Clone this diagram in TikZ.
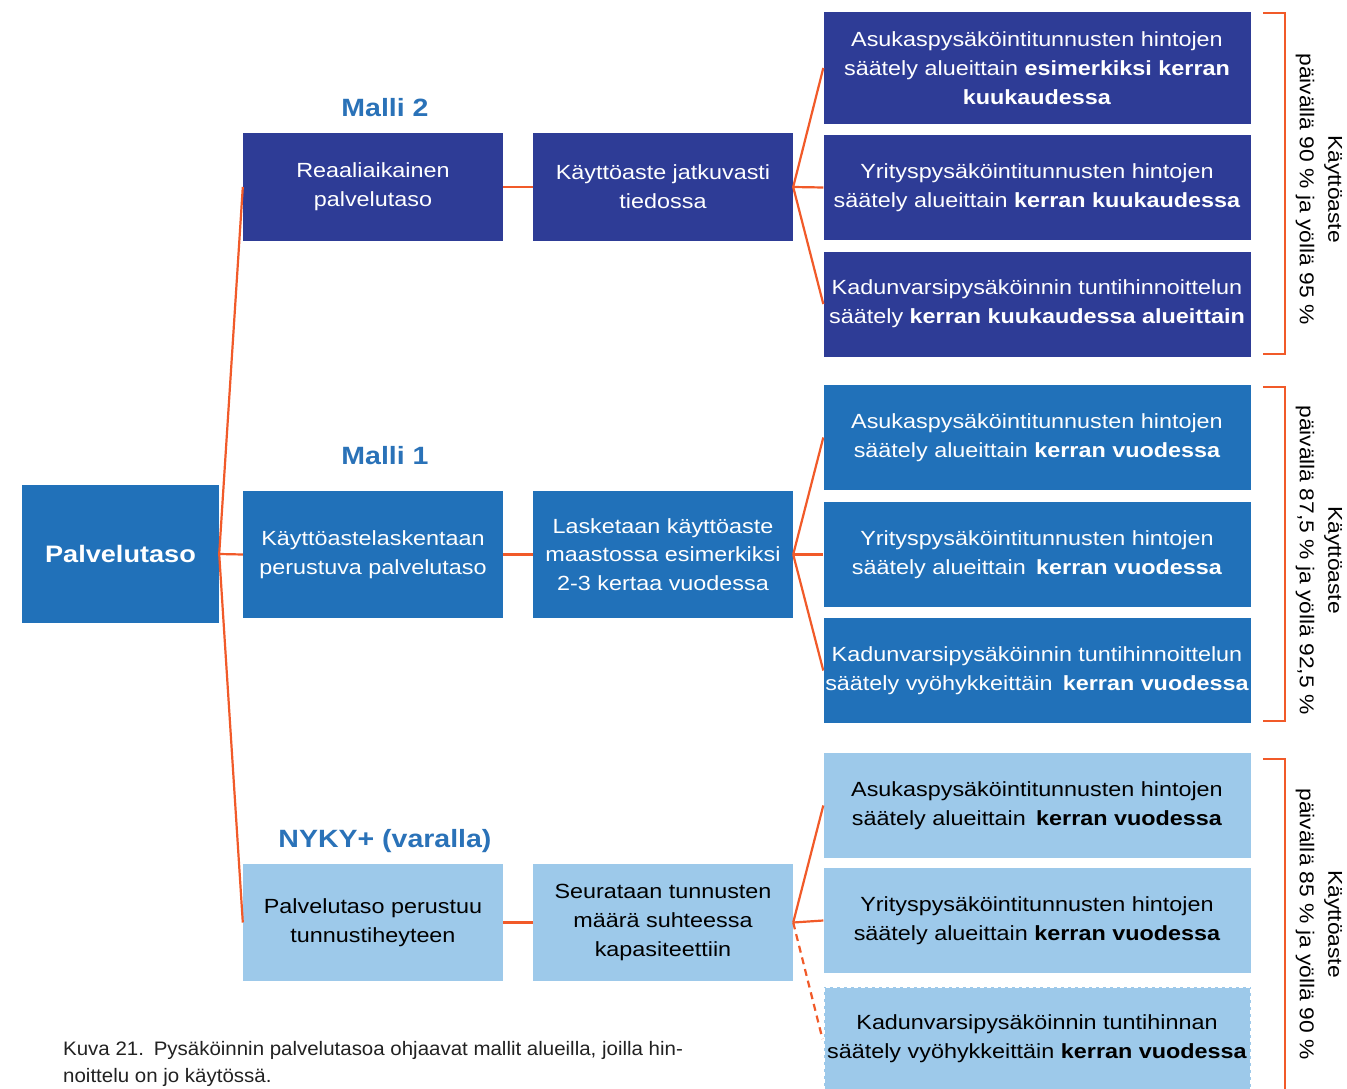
\documentclass[tikz,border=0pt]{standalone}
\usepackage{fontspec}
\setmainfont{Liberation Sans}[FakeStretch=1.14]
\newfontfamily\capfont{Liberation Sans}[FakeStretch=1.05]
\definecolor{navy}{HTML}{2E3C96}
\definecolor{midblue}{HTML}{2171B9}
\definecolor{lightblue}{HTML}{9DC9EA}
\definecolor{orng}{HTML}{F15A29}
\definecolor{titleblue}{HTML}{2A72B8}
\definecolor{captgray}{HTML}{222222}
\begin{document}
\begin{tikzpicture}[x=1pt,y=-1pt,
  box/.style={inner sep=0pt, align=center, font=\fontsize{20.5}{28.8}\selectfont},
  navybox/.style={box, fill=navy, text=white},
  midbox/.style={box, fill=midblue, text=white},
  lightbox/.style={box, fill=lightblue, text=black},
  lbox/.style={minimum width=260pt},
  rbox/.style={minimum width=427pt},
  conn/.style={draw=orng, line width=2.2pt},
  brk/.style={draw=orng, line width=2.2pt},
  ttl/.style={text=titleblue, font=\fontsize{25}{30}\selectfont\bfseries},
  side/.style={rotate=-90, align=center, font=\fontsize{20}{28.5}\selectfont, text=black}]
\useasboundingbox (0,0) rectangle (1347,1089);
\fill[white] (0,0) rectangle (1347,1089);

% main
\node[midbox, minimum width=197pt, minimum height=138pt, font=\fontsize{23.8}{30}\selectfont\bfseries] (pal) at (120.5,554) {Palvelutaso};

% titles
\node[ttl] (t2) at (385,108) {Malli 2};
\node[ttl] (t1) at (385,456) {Malli 1};
\node[ttl] (tn) at (385,841) {NYKY+ (varalla)};

% left boxes
\node[navybox, lbox, minimum height=108pt] (r2) at (373,187) {Reaaliaikainen\\palvelutaso};
\node[navybox, lbox, minimum height=108pt] (k2) at (663,187) {Käyttöaste jatkuvasti\\tiedossa};
\node[midbox, lbox, minimum height=127pt] (r1) at (373,554.5) {Käyttöastelaskentaan\\perustuva palvelutaso};
\node[midbox, lbox, minimum height=127pt] (k1) at (663,554.5) {Lasketaan käyttöaste\\maastossa esimerkiksi\\2-3 kertaa vuodessa};
\node[lightbox, lbox, minimum height=117pt] (rn) at (373,922.5) {Palvelutaso perustuu\\tunnustiheyteen};
\node[lightbox, lbox, minimum height=117pt] (kn) at (663,922.5) {Seurataan tunnusten\\määrä suhteessa\\kapasiteettiin};

% right boxes Malli 2
\node[navybox, rbox, minimum height=112pt] (a2) at (1037,68) {Asukaspysäköintitunnusten hintojen\\säätely alueittain \textbf{esimerkiksi kerran}\\\textbf{kuukaudessa}};
\node[navybox, rbox, minimum height=105pt] (b2) at (1037,187.5) {Yrityspysäköintitunnusten hintojen\\säätely alueittain \textbf{kerran kuukaudessa}};
\node[navybox, rbox, minimum height=105pt] (c2) at (1037,304) {Kadunvarsipysäköinnin tuntihinnoittelun\\säätely \textbf{kerran kuukaudessa alueittain}};

% right boxes Malli 1
\node[midbox, rbox, minimum height=105pt] (a1) at (1037,437.5) {Asukaspysäköintitunnusten hintojen\\säätely alueittain \textbf{kerran vuodessa}};
\node[midbox, rbox, minimum height=105pt] (b1) at (1037,554.5) {Yrityspysäköintitunnusten hintojen\\säätely alueittain\enspace\textbf{kerran vuodessa}};
\node[midbox, rbox, minimum height=105pt] (c1) at (1037,670.5) {Kadunvarsipysäköinnin tuntihinnoittelun\\säätely vyöhykkeittäin\enspace\textbf{kerran vuodessa}};

% right boxes NYKY+
\node[lightbox, rbox, minimum height=105pt] (an) at (1037,805.5) {Asukaspysäköintitunnusten hintojen\\säätely alueittain\enspace\textbf{kerran vuodessa}};
\node[lightbox, rbox, minimum height=105pt] (bn) at (1037,920.5) {Yrityspysäköintitunnusten hintojen\\säätely alueittain \textbf{kerran vuodessa}};
\node[lightbox, rbox, minimum height=104pt, draw=white, line width=2pt, dash pattern=on 4pt off 3pt] (cn) at (1037,1039) {Kadunvarsipysäköinnin tuntihinnan\\säätely vyöhykkeittäin \textbf{kerran vuodessa}};

% connectors
\draw[conn] (pal.east) -- (r2.west);
\draw[conn] (pal.east) -- (r1.west);
\draw[conn] (pal.east) -- (rn.west);
\draw[conn] (r2.east) -- (k2.west);
\draw[conn] (r1.east) -- (k1.west);
\draw[conn] (rn.east) -- (kn.west);
\draw[conn] (k2.east) -- (a2.west);
\draw[conn] (k2.east) -- (b2.west);
\draw[conn] (k2.east) -- (c2.west);
\draw[conn] (k1.east) -- (a1.west);
\draw[conn] (k1.east) -- (b1.west);
\draw[conn] (k1.east) -- (c1.west);
\draw[conn] (kn.east) -- (an.west);
\draw[conn] (kn.east) -- (bn.west);
\draw[conn, dash pattern=on 7pt off 5pt] (kn.east) -- (cn.west);

% brackets
\draw[brk] (1263,13) -- (1285,13) -- (1285,354) -- (1263,354);
\draw[brk] (1263,387) -- (1285,387) -- (1285,721) -- (1263,721);
\draw[brk] (1263,759) -- (1285,759) -- (1285,1095);
\node[side] (s2) at (1319,189) {Käyttöaste\\päivällä 90 \% ja yöllä 95 \%};
\node[side] (s1) at (1319,560) {Käyttöaste\\päivällä 87,5 \% ja yöllä 92,5 \%};
\node[side] (sn) at (1319,924) {Käyttöaste\\päivällä 85 \% ja yöllä 90 \%};

% caption
\node[anchor=north west, align=left, text=captgray, font=\capfont\fontsize{19.5}{27}\selectfont, inner sep=0pt] (cap) at (63,1041) {Kuva 21.\enspace Pysäköinnin palvelutasoa ohjaavat mallit alueilla, joilla hin-\\noittelu on jo käytössä.};
\end{tikzpicture}
\end{document}
